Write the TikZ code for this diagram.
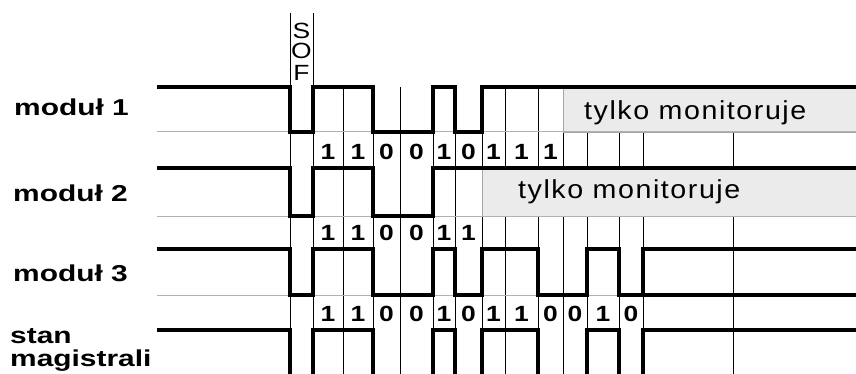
\documentclass[tikz,border=0pt]{standalone}
\usepackage{fontspec}
\setmainfont{Liberation Sans}
\newfontfamily\lblfont[FakeStretch=1.3]{Liberation Sans}
\newfontfamily\bitfont[FakeStretch=1.2]{Liberation Sans}
\newfontfamily\monfont[FakeStretch=1.1,LetterSpace=6]{Liberation Sans}
\newfontfamily\soffont[FakeStretch=1.2]{Liberation Sans}
\begin{document}
\begin{tikzpicture}[x=1pt,y=-1pt,
    rowlabel/.style={anchor=base west,inner sep=0pt,font=\lblfont\bfseries\fontsize{23}{25}\selectfont},
    bitnum/.style={inner sep=0pt,font=\bitfont\bfseries\fontsize{22}{24}\selectfont},
    montext/.style={anchor=base west,inner sep=0pt,font=\monfont\fontsize{26}{28}\selectfont},
    sofletter/.style={inner sep=0pt,font=\soffont\fontsize{22}{24}\selectfont},
    monbox/.style={fill=gray!16,draw=gray!70,line width=0.8pt},
    gridline/.style={line width=0.9pt,black},
    lowline/.style={line width=1pt,gray!60},
    wave/.style={line width=4pt,black,line join=miter}]
  \useasboundingbox (0,0) rectangle (856,374);
  \begin{scope}
  \clip (0,0) rectangle (856,374);
  % grid
  \draw[gridline] (290,13) -- (290,374);
  \draw[gridline] (313,13) -- (313,374);
  \foreach \x in {343,373,400,433,455,482,505,538,563,587,619,643,733}
    \draw[gridline] (\x,87) -- (\x,374);
  \node[sofletter] (sofS) at (301.5,31) {S};
  \node[sofletter] (sofO) at (301.5,51) {O};
  \node[sofletter] (sofF) at (301.5,73) {F};
  % only listening
  \draw[monbox] (563,88) rectangle (860,132);
  \draw[monbox] (482,169) rectangle (860,216);
  \node[montext] (mon1) at (584,120) {tylko monitoruje};
  \node[montext] (mon2) at (518,199) {tylko monitoruje};
  % low levels
  \foreach \y in {132,216,295}
    \draw[lowline] (157,\y) -- (856,\y);
  % waveforms
  \draw[wave] (157,87) -| (290,132) -| (313,87) -| (373,132) -| (433,87) -| (455,132) -| (482,87) -- (860,87);
  \draw[wave] (157,168) -| (290,216) -| (313,168) -| (373,216) -| (433,168) -- (860,168);
  \draw[wave] (157,249) -| (290,295) -| (313,249) -| (373,295) -| (433,249) -| (455,295) -| (482,249)
    -| (538,295) -| (587,249) -| (619,295) -| (643,249) -- (860,249);
  \draw[wave] (643,295) -- (860,295);
  \draw[wave] (157,330) -| (290,390) -| (313,330) -| (373,390) -| (433,330) -| (455,390) -| (482,330)
    -| (538,390) -| (587,330) -| (619,390) -| (643,330) -- (860,330);
  \end{scope}
  % bits
  \foreach \a/\b/\v [count=\i] in {313/343/1,343/373/1,373/400/0,400/433/0,433/455/1,455/482/0,482/505/1,505/538/1,538/563/1}
    \node[bitnum] (bitA\i) at ({(\a+\b)/2},152) {\v};
  \foreach \a/\b/\v [count=\i] in {313/343/1,343/373/1,373/400/0,400/433/0,433/455/1,455/482/1}
    \node[bitnum] (bitB\i) at ({(\a+\b)/2},233) {\v};
  \foreach \a/\b/\v [count=\i] in {313/343/1,343/373/1,373/400/0,400/433/0,433/455/1,455/482/0,482/505/1,505/538/1,538/563/0,563/587/0,587/619/1,619/643/0}
    \node[bitnum] (bitC\i) at ({(\a+\b)/2},314) {\v};
  % labels
  \node[rowlabel] (mod1) at (14,116) {moduł 1};
  \node[rowlabel] (mod2) at (13,201) {moduł 2};
  \node[rowlabel] (mod3) at (13,281) {moduł 3};
  \node[rowlabel] (bus1) at (10,343) {stan};
  \node[rowlabel] (bus2) at (10,366) {magistrali};
\end{tikzpicture}
\end{document}
